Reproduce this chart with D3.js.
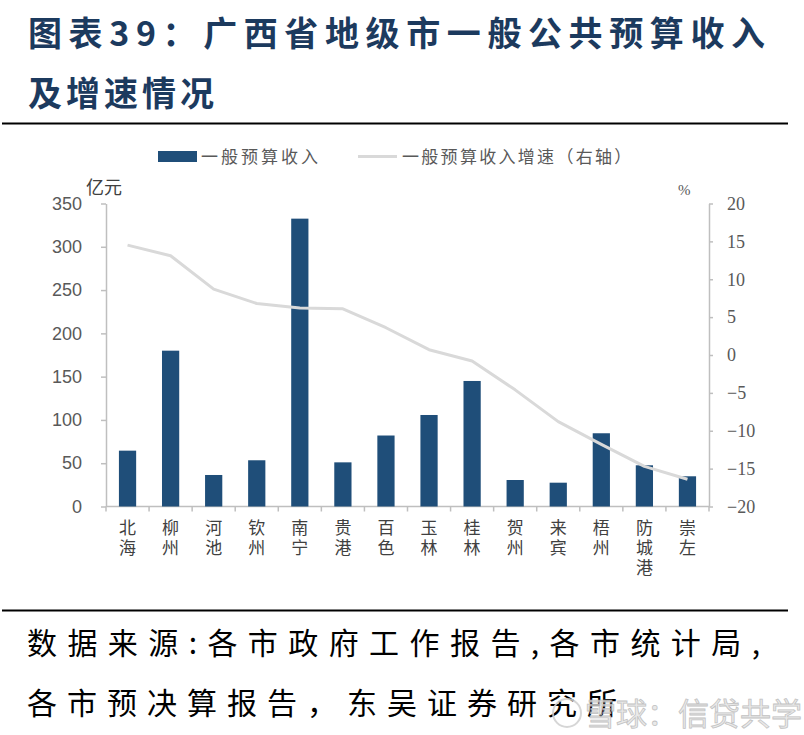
<!DOCTYPE html>
<html><head><meta charset="utf-8">
<script src="https://cdn.jsdelivr.net/npm/d3@7"></script>
<style>
html,body{margin:0;padding:0;background:#fff;}
svg{display:block;}
</style></head>
<body>
<svg id="c" width="804" height="735"></svg>
<script>
const categories = ['北海','柳州','河池','钦州','南宁','贵港','百色','玉林','桂林','贺州','来宾','梧州','防城港','崇左'];
const revenue = [64.5,180,36.4,53.4,332.5,51,82,105.7,145,30.6,27.5,84.6,47.6,34.9];
const growth = [14.5,13.1,8.7,6.8,6.2,6.1,3.6,0.7,-0.8,-4.6,-8.8,-11.8,-14.7,-16.4];
const leftTicks = [0,50,100,150,200,250,300,350];
const rightTicks = [-20,-15,-10,-5,0,5,10,15,20];
const titleLines = ['图表39：广西省地级市一般公共预算收入','及增速情况'];
const sourceLines = ['数据来源:各市政府工作报告,各市统计局,','各市预决算报告，东吴证券研究所'];
const legendLabels = ['一般预算收入','一般预算收入增速（右轴）'];

const svg = d3.select('#c');
const CJK = '"Noto Sans CJK SC","Noto Sans",sans-serif';
const axisColor = '#bfbfbf', textColor = '#595959';

// Title
svg.append('text').attr('x',28).attr('y',46).attr('font-family',CJK).attr('font-weight',700)
  .attr('font-size',34).attr('fill','#1c3a5e').attr('textLength',737).attr('lengthAdjust','spacing').text(titleLines[0]);
svg.append('text').attr('x',28).attr('y',106).attr('font-family',CJK).attr('font-weight',700)
  .attr('font-size',34).attr('fill','#1c3a5e').attr('letter-spacing',4).text(titleLines[1]);
svg.append('line').attr('x1',2).attr('x2',788).attr('y1',123.5).attr('y2',123.5).attr('stroke','#000').attr('stroke-width',2);

// Scales
const x = d3.scaleBand().domain(categories).range([106,709]).paddingInner(0.6).paddingOuter(0.3);
const yL = d3.scaleLinear().domain([0,350]).range([506.5,203.5]);
const yR = d3.scaleLinear().domain([-20,20]).range([506.5,203.5]);

// Left axis
const gL = svg.append('g').attr('transform','translate(106,0)')
  .call(d3.axisLeft(yL).tickValues(leftTicks).tickSize(5).tickSizeOuter(0).tickPadding(19));
gL.selectAll('path,line').attr('stroke',axisColor).attr('stroke-width',1.5);
gL.selectAll('text').attr('font-family','"Liberation Sans",Arial,sans-serif').attr('font-size',18).attr('fill',textColor);

// Right axis
const gR = svg.append('g').attr('transform','translate(709,0)')
  .call(d3.axisRight(yR).tickValues(rightTicks).tickSize(4).tickSizeOuter(0).tickPadding(14));
gR.selectAll('path,line').attr('stroke',axisColor).attr('stroke-width',1.5);
gR.selectAll('text').attr('font-family','"Liberation Serif","DejaVu Serif",serif').attr('font-size',18).attr('fill',textColor);

// X axis
svg.append('line').attr('x1',106).attr('x2',709).attr('y1',yL(0)).attr('y2',yL(0)).attr('stroke',axisColor).attr('stroke-width',1.5);
const bounds = d3.range(categories.length+1).map(i => x.range()[0] + i*x.step());
svg.selectAll('.xt').data(bounds).join('line').attr('class','xt')
  .attr('x1',d=>d).attr('x2',d=>d).attr('y1',yL(0)).attr('y2',yL(0)+5).attr('stroke',axisColor).attr('stroke-width',1.5);

// X labels (vertical writing)
svg.selectAll('.xl').data(categories).join('text').attr('class','xl')
  .attr('x',d=>x(d)+x.bandwidth()/2).attr('y',519)
  .attr('writing-mode','vertical-rl').style('text-orientation','upright')
  .attr('letter-spacing',3)
  .attr('font-family',CJK).attr('font-size',17).attr('fill','#404040')
  .text(d=>d);

// Bars
svg.selectAll('.bar').data(categories).join('rect').attr('class','bar')
  .attr('x',d=>x(d)).attr('width',x.bandwidth())
  .attr('y',(d,i)=>yL(revenue[i])).attr('height',(d,i)=>yL(0)-yL(revenue[i]))
  .attr('fill','#1f4e79');

// Line
const line = d3.line().x((d,i)=>x(categories[i])+x.bandwidth()/2).y(d=>yR(d));
svg.append('path').datum(growth).attr('d',line).attr('fill','none').attr('stroke','#d9d9d9').attr('stroke-width',3).attr('stroke-linejoin','round');

// Axis unit labels
svg.append('text').attr('x',86).attr('y',194).attr('font-family',CJK).attr('font-size',18).attr('fill','#404040').text('亿元');
svg.append('text').attr('x',678).attr('y',195).attr('font-family','"Liberation Serif",serif').attr('font-size',15).attr('fill',textColor).text('%');

// Legend
svg.append('rect').attr('x',158).attr('y',151).attr('width',39).attr('height',11).attr('fill','#1f4e79');
svg.append('text').attr('x',201).attr('y',163).attr('font-family',CJK).attr('font-size',17).attr('fill',textColor).attr('letter-spacing',3).text(legendLabels[0]);
svg.append('line').attr('x1',358).attr('x2',397).attr('y1',156.5).attr('y2',156.5).attr('stroke','#d9d9d9').attr('stroke-width',3);
svg.append('text').attr('x',402).attr('y',163).attr('font-family',CJK).attr('font-size',17).attr('fill',textColor).attr('letter-spacing',2.3).text(legendLabels[1]);

// Bottom rule + source
svg.append('line').attr('x1',2).attr('x2',788).attr('y1',610.5).attr('y2',610.5).attr('stroke','#000').attr('stroke-width',2);
svg.append('text').attr('x',27).attr('y',654).attr('font-family',CJK).attr('font-size',30).attr('fill','#000').attr('textLength',733).attr('lengthAdjust','spacing').text(sourceLines[0]);
svg.append('text').attr('x',27).attr('y',714).attr('font-family',CJK).attr('font-size',30).attr('fill','#000').attr('letter-spacing',10).text(sourceLines[1]);

// Watermark
svg.append('circle').attr('cx',567).attr('cy',713).attr('r',14).attr('fill','none').attr('stroke','#cfcfcf').attr('stroke-width',2).attr('opacity',0.85);
svg.append('text').attr('x',585).attr('y',725).attr('font-family',CJK).attr('font-size',31).attr('fill','#e6e6e6').attr('stroke','#b8b8b8').attr('stroke-width',0.8).attr('opacity',0.85).text('雪球：信贷共学');
</script>
</body></html>
